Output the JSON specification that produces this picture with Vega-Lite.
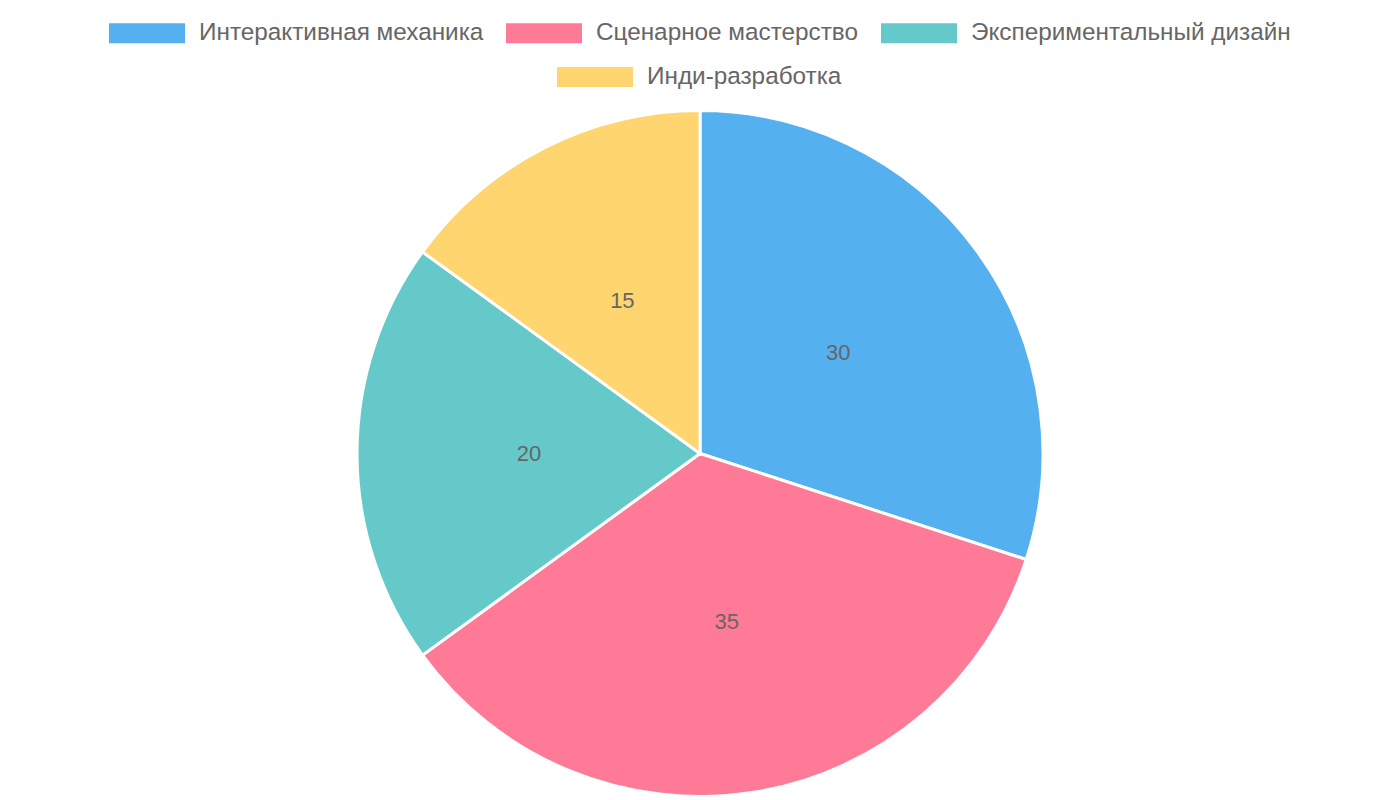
{
  "$schema": "https://vega.github.io/schema/vega-lite/v6.json",
  "width": 1400,
  "height": 685,
  "autosize": {"type": "none"},
  "padding": {"left": 0, "top": 111, "right": 0, "bottom": 4},
  "background": "white",
  "config": {"view": {"stroke": null}, "font": "Liberation Sans"},
  "data": {
    "values": [
      {"category": "Интерактивная механика", "value": 30, "rank": 1},
      {"category": "Сценарное мастерство", "value": 35, "rank": 2},
      {"category": "Экспериментальный дизайн", "value": 20, "rank": 3},
      {"category": "Инди-разработка", "value": 15, "rank": 4}
    ]
  },
  "encoding": {
    "theta": {"field": "value", "type": "quantitative", "stack": true},
    "order": {"field": "rank", "type": "quantitative"}
  },
  "layer": [
    {
      "mark": {"type": "arc", "radius": 343, "stroke": "white", "strokeWidth": 3},
      "encoding": {
        "color": {
          "field": "category",
          "type": "nominal",
          "scale": {
            "domain": ["Интерактивная механика", "Сценарное мастерство", "Экспериментальный дизайн", "Инди-разработка"],
            "range": ["#54B0EE", "#FF7A96", "#66C9C9", "#FFD56F"]
          },
          "legend": {
            "values": ["Интерактивная механика", "Сценарное мастерство", "Экспериментальный дизайн"],
            "orient": "none", "legendX": 109, "legendY": -98,
            "direction": "horizontal", "title": null, "padding": 0,
            "symbolType": "M-1,-0.5H2.8V0.5H-1Z", "symbolSize": 1600,
            "symbolStrokeWidth": 0, "symbolOpacity": 1,
            "labelOffset": 50, "labelFontSize": 24.3, "labelColor": "#666",
            "labelLimit": 500, "columnPadding": 22
          }
        }
      }
    },
    {
      "mark": {"type": "arc", "radius": 343, "stroke": "white", "strokeWidth": 3},
      "encoding": {
        "color": {
          "field": "category",
          "type": "nominal",
          "scale": {
            "domain": ["Интерактивная механика", "Сценарное мастерство", "Экспериментальный дизайн", "Инди-разработка"],
            "range": ["#54B0EE", "#FF7A96", "#66C9C9", "#FFD56F"]
          },
          "legend": {
            "values": ["Инди-разработка"],
            "orient": "none", "legendX": 557, "legendY": -54,
            "direction": "horizontal", "title": null, "padding": 0,
            "symbolType": "M-1,-0.5H2.8V0.5H-1Z", "symbolSize": 1600,
            "symbolStrokeWidth": 0, "symbolOpacity": 1,
            "labelOffset": 50, "labelFontSize": 24.3, "labelColor": "#666",
            "labelLimit": 500
          }
        }
      }
    },
    {
      "mark": {"type": "text", "radius": 171, "fontSize": 22, "fill": "#666"},
      "encoding": {
        "text": {"field": "value", "type": "quantitative"}
      }
    }
  ],
  "resolve": {"scale": {"color": "independent"}, "legend": {"color": "independent"}}
}
